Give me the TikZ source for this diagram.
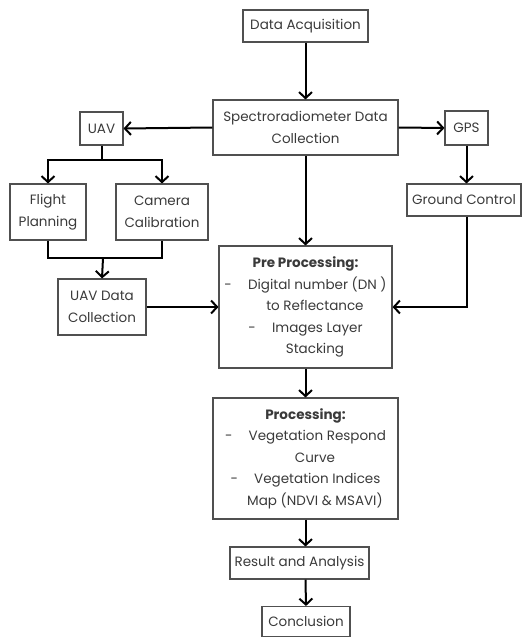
\documentclass[tikz,border=0pt]{standalone}
\usepackage{fontspec}
\setmainfont{Poppins}
\usetikzlibrary{arrows.meta}
\definecolor{txt}{HTML}{3A3A3A}
\definecolor{edge}{HTML}{505050}
\begin{document}
\begin{tikzpicture}[x=1pt,y=-1pt,
  box/.style 2 args={draw=edge, line width=1.1pt, text=txt, inner sep=0pt, align=center,
    font=\fontsize{13.5}{21.5}\selectfont, minimum width=#1, minimum height=#2},
  conn/.style={line width=2pt, black},
  arr/.style={conn, -{Straight Barb[length=6pt,width=13pt]}}]
\useasboundingbox (0,0) rectangle (532,637);
\node[box={125pt}{32pt}] (acq) at (305.5,26) {Data Acquisition};
\node[box={185pt}{55pt}] (spec) at (305.5,127.5) {Spectroradiometer Data\\Collection};
\node[box={43pt}{33pt}] (uav) at (101.5,128.5) {UAV};
\node[box={43pt}{34pt}] (gps) at (466.5,128) {GPS};
\node[box={114pt}{32pt}] (gc) at (464,200) {Ground Control};
\node[box={76pt}{56pt}] (fp) at (48,212) {Flight\\Planning};
\node[box={92pt}{56pt}] (cc) at (162,212) {Camera\\Calibration};
\node[box={88pt}{56pt}] (uavd) at (102,307) {UAV Data\\Collection};
\node[box={173pt}{122pt}] (pre) at (305.5,307) {\textbf{Pre Processing:}\\
  -\hspace{1.2em}Digital number (DN )\\
  \hspace{1.4em}to Reflectance\\
  -\hspace{1.2em}Images Layer\\
  \hspace{1.4em}Stacking};
\node[box={185pt}{121pt}] (proc) at (305.5,458.5) {\textbf{Processing:}\\
  -\hspace{1.2em}Vegetation Respond\\
  \hspace{1.4em}Curve\\
  -\hspace{1.2em}Vegetation Indices\\
  \hspace{1.4em}Map (NDVI \& MSAVI)};
\node[box={139pt}{32pt}] (res) at (299.5,563) {Result and Analysis};
\node[box={88pt}{30pt}] (conc) at (306,621.5) {Conclusion};
\coordinate (usplit) at (101.5,160);
\coordinate (jn) at (103,258);
\draw[arr] (acq.south) -- (spec.north);
\draw[arr] (spec.west) -- (uav.east);
\draw[arr] (spec.east) -- (gps.west);
\draw[arr] (gps.south) -- (gps.south |- gc.north);
\draw[conn] (uav.south) -- (usplit);
\draw[arr] (usplit) -| (fp.north);
\draw[arr] (usplit) -| (cc.north);
\draw[conn] (fp.south) |- (jn) -| (cc.south);
\draw[arr] (jn) -- (uavd.north);
\draw[arr] (uavd.east) -- (pre.west);
\draw[arr] (spec.south) -- (pre.north);
\draw[arr] (gps.south |- gc.south) |- (pre.east);
\draw[arr] (pre.south) -- (proc.north);
\draw[arr] (proc.south) -- (proc.south |- res.north);
\draw[arr] (res.south -| proc.south) -- (conc.north);
\end{tikzpicture}
\end{document}
